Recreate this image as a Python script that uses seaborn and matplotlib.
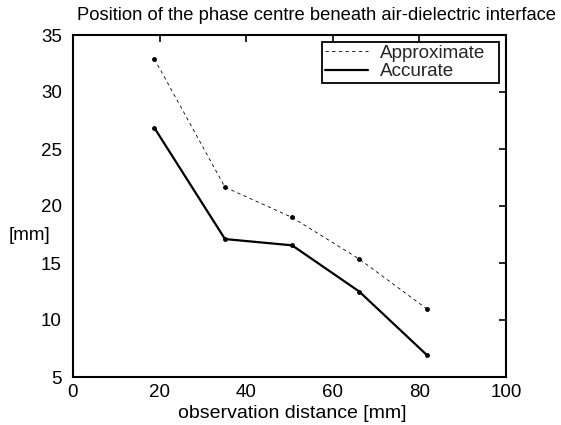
import matplotlib
matplotlib.use("Agg")
import matplotlib.pyplot as plt
import seaborn as sns
import pandas as pd

distance = [18.8, 35.1, 50.6, 66.1, 81.8]
approximate = [32.9, 21.65, 19.0, 15.35, 10.95]
accurate = [26.85, 17.1, 16.55, 12.5, 6.9]

sns.set_theme(style="white")
plt.rcParams['font.family'] = ['Liberation Sans', 'DejaVu Sans']

df = pd.DataFrame({
    "distance": distance * 2,
    "value": approximate + accurate,
    "series": ["Approximate"] * 5 + ["Accurate"] * 5,
})

fig = plt.figure(figsize=(5.61, 4.25), dpi=100)
ax = fig.add_axes([73/561, 1 - 377/425, (506-73)/561, (377-35)/425])

sns.lineplot(data=df[df.series == "Approximate"], x="distance", y="value", ax=ax,
             color="black", linewidth=0.6, linestyle=(0, (4, 4)), marker="o",
             markersize=3.5, markeredgewidth=0, label="Approximate")
sns.lineplot(data=df[df.series == "Accurate"], x="distance", y="value", ax=ax,
             color="black", linewidth=1.6, marker="o",
             markersize=3.5, markeredgewidth=0, label="Accurate")

ax.set_xlim(0, 100)
ax.set_ylim(5, 35)
ax.set_xticks([0, 20, 40, 60, 80, 100])
ax.set_yticks([5, 10, 15, 20, 25, 30, 35])
ax.tick_params(direction="in", length=5, width=1.2, top=True, right=True,
               labelsize=13.5, colors="black")
ax.tick_params(axis="y", pad=8)
ax.tick_params(axis="x", pad=5)
for s in ax.spines.values():
    s.set_visible(True)
    s.set_color("black")
    s.set_linewidth(1.5)

ax.set_title("Position of the phase centre beneath air-dielectric interface",
             fontsize=13.2, color="black", pad=11, x=0.5635)
ax.set_xlabel("observation distance [mm]", fontsize=14, color="black")
ax.xaxis.set_label_coords((292.5 - 73) / 433, -(414 - 377) / 342)
ax.xaxis.label.set_va("center")
ax.set_ylabel("[mm]", fontsize=13.5, color="black", rotation=0)
ax.yaxis.set_label_coords((30 - 73) / 433, (377 - 235) / 342)
ax.yaxis.label.set_ha("center")
ax.yaxis.label.set_va("center")

bx0 = (322 - 73) / 433
bx1 = (499 - 73) / 433
by1 = (377 - 42) / 342
leg = ax.legend(loc="upper right", fontsize=13.6, frameon=True, fancybox=False,
                edgecolor="black", framealpha=1, borderpad=0.15, labelspacing=0.05,
                handlelength=2.3, handletextpad=0.6, borderaxespad=0,
                bbox_to_anchor=(bx0, by1 - 0.1, bx1 - bx0, 0.1), mode="expand")
leg.get_frame().set_linewidth(1.3)
for h in leg.legend_handles:
    h.set_marker("")

fig.savefig("out.png", dpi=100)
